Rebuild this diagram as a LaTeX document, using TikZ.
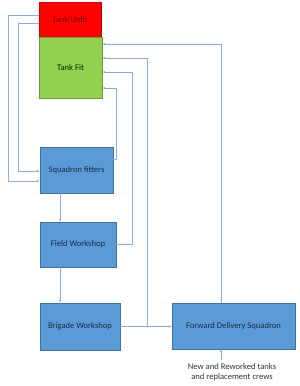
\documentclass[tikz,border=0pt]{standalone}
\usepackage{fontspec}
\setmainfont{Carlito}
\usepackage{xcolor}
\usetikzlibrary{positioning,arrows.meta}

\definecolor{boxblue}{HTML}{5B9BD5}
\definecolor{boxedge}{HTML}{41719C}
\definecolor{linkblue}{HTML}{8FAADC}
\definecolor{unfitred}{HTML}{FF0000}
\definecolor{fitgreen}{HTML}{92D050}
\definecolor{textnavy}{HTML}{1A2B48}

\begin{document}
\begin{tikzpicture}[
    x=1pt, y=-1pt,
    font=\fontsize{8.6}{10.2}\selectfont,
    block/.style={draw=boxedge, fill=boxblue, text=textnavy, rectangle, align=center, inner sep=1pt},
    line/.style={-{Latex[length=3pt,width=2.6pt]}, linkblue, line width=0.6pt}
]
\useasboundingbox (0,0) rectangle (300,386);

% Tank states
\node[block, fill=unfitred, draw=unfitred!80!black, text=red!45!black, minimum width=62pt, minimum height=35pt] (unfit) at (70,19.5) {Tank Unfit};
\node[block, fill=fitgreen, draw=fitgreen!75!black, text=black!85!green, minimum width=63pt, minimum height=61pt] (fit) at (70.5,67.5) {Tank Fit};

% Repair chain
\node[block, minimum width=73pt, minimum height=46pt] (fitters) at (76.5,170) {Squadron fitters};
\node[block, minimum width=76pt, minimum height=45pt] (field) at (78,244.5) {Field Workshop};
\node[block, minimum width=80pt, minimum height=47pt] (brigade) at (80,326.5) {Brigade Workshop};
\node[block, minimum width=123pt, minimum height=46pt] (fds) at (233.5,326) {Forward Delivery Squadron};
\node[align=center, text=black!80] (supply) at (232,372) {New and Reworked tanks\\and replacement crews};

% Unfit tanks to the fitters
\draw[line] (unfit.west |- 0,15) -| (8,181) -- (fitters.west |- 0,181);
\draw[line] (unfit.west |- 0,23) -| (18,171) -- (fitters.west |- 0,171);

% Down the chain
\draw[line] (fitters.south -| 60,0) -- (field.north -| 60,0);
\draw[line] (field.south -| 60,0) -- (brigade.north -| 60,0);
\draw[line] (brigade.east) -- (brigade.east -| fds.west);
\draw[line] (supply.north -| 221,0) -- (fds.south -| 221,0);

% Back to Tank Fit
\coordinate (junc) at (brigade.east -| 147,0);
\draw[line] (fds.north -| 221,0) |- (fit.east |- 0,44);
\draw[line] (junc) |- (fit.east |- 0,58);
\draw[line] (field.east) -| (132,72) -- (fit.east |- 0,72);
\draw[line] (fitters.east |- 0,159) -| (116,88) -- (fit.east |- 0,88);

\end{tikzpicture}
\end{document}
